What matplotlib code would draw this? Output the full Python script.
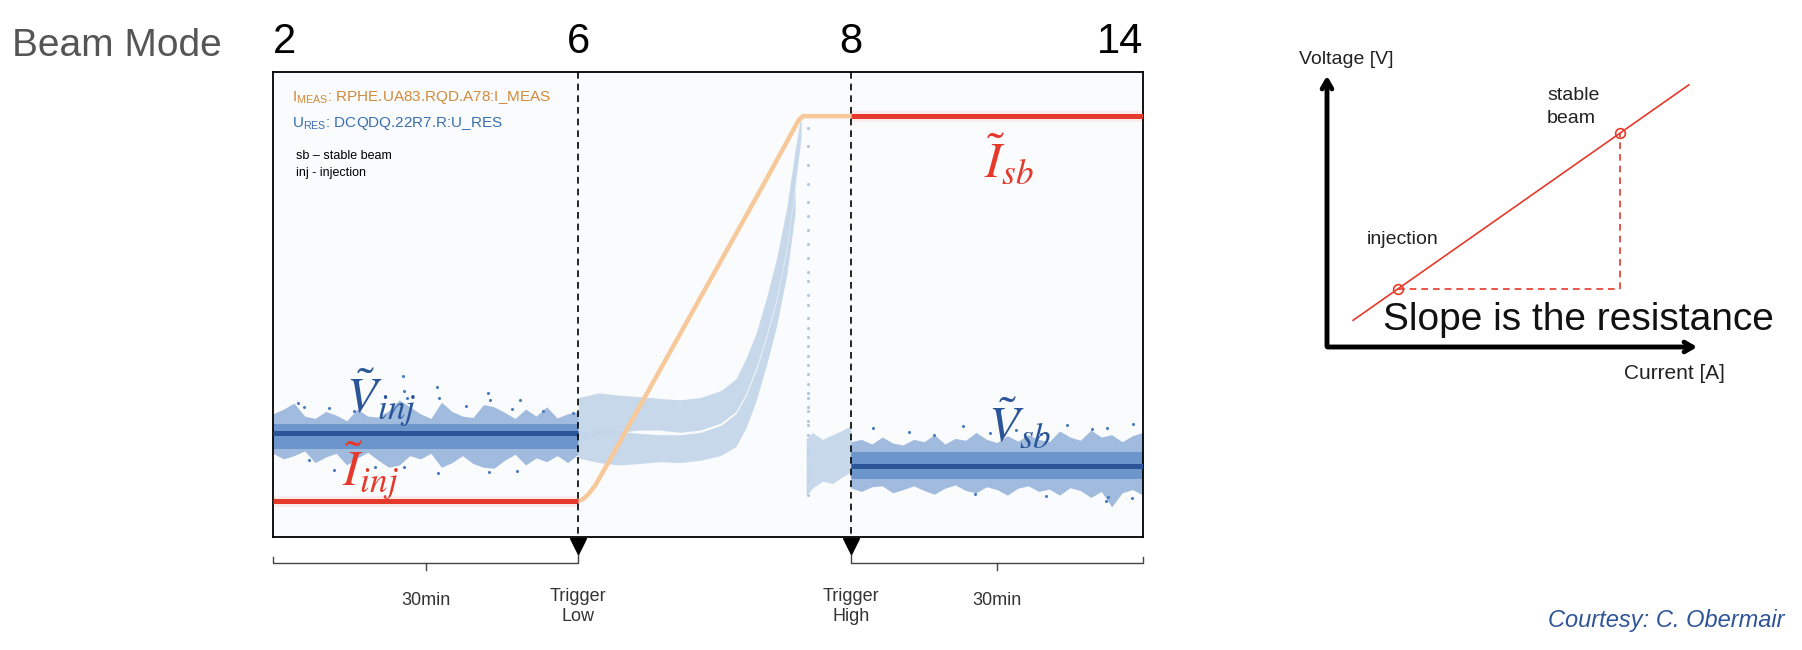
import matplotlib.pyplot as plt
import numpy as np

plt.rcParams['font.family'] = ['Liberation Sans', 'DejaVu Sans']
plt.rcParams['mathtext.fontset'] = 'stix'

W, H = 1802, 650

# ---- time series panel (x in minutes, y normalised to plot height) ----
beam_modes = ['2', '6', '8', '14']
seg_edges = [0.0, 30.0, 56.8, 85.5]
seg_labels = ['30min', '30min']
trigger_labels = ['Trigger\nLow', 'Trigger\nHigh']

i_inj_level = 7.7
i_sb_level = 90.5
ramp_t = [30.0, 30.5, 31.0, 31.7, 33.1, 47.9, 51.7, 52.1, 56.8]
ramp_i = [7.7, 8.2, 9.2, 11.2, 16.6, 74.6, 89.8, 90.5, 90.5]

v_inj_level = 22.4
v_sb_level = 15.3

# voltage scatter envelope, injection window
left_t = np.linspace(0.0, 30.0, 30)
left_hi = [26.5, 27.5, 28.8, 26.0, 25.5, 27.0, 26.2, 25.0, 27.5, 26.0, 25.8, 27.2, 29.5, 28.0, 26.5,
           25.5, 29.0, 27.0, 26.0, 25.7, 28.5, 28.0, 26.8, 25.5, 27.5, 26.0, 28.0, 25.6, 26.5, 27.0]
left_lo = [18.0, 16.8, 17.5, 18.5, 16.0, 17.2, 18.0, 15.5, 17.0, 18.2, 16.5, 15.0, 15.5, 17.5, 16.8,
           18.0, 15.0, 16.0, 17.5, 15.8, 15.0, 14.8, 16.5, 17.8, 15.5, 17.0, 16.2, 17.5, 16.0, 17.8]
left_dots_t = [2.5, 3.0, 5.5, 8.0, 12.8, 12.9, 13.2, 16.1, 16.3, 19.0, 21.1, 21.3, 23.5, 24.3,
               26.5, 29.5, 6.0, 12.9, 16.2, 21.2, 24.0, 10.0, 3.5]
left_dots_v = [28.8, 28.0, 27.8, 27.0, 34.6, 31.5, 29.8, 32.2, 30.0, 28.2, 31.0, 29.5, 27.6, 29.5,
               27.2, 26.7, 14.5, 15.0, 13.8, 14.0, 14.2, 15.0, 16.6]

# voltage scatter envelope, stable beam window
right_t = np.linspace(56.8, 85.5, 29)
right_hi = [20.5, 21.0, 20.0, 21.5, 20.2, 19.8, 21.0, 20.5, 22.0, 20.0, 21.2, 20.8, 22.5, 21.0, 20.3,
            21.8, 20.6, 22.0, 21.0, 20.5, 22.8, 21.5, 20.8, 23.0, 21.5, 22.0, 20.5, 21.8, 22.5]
right_lo = [10.5, 9.8, 10.8, 11.0, 9.5, 10.2, 11.0, 10.0, 9.2, 10.5, 11.2, 10.0, 9.5, 10.8, 10.2,
            9.0, 10.5, 11.0, 9.8, 10.3, 9.0, 10.6, 10.0, 8.5, 9.8, 6.5, 9.5, 10.2, 9.0]
right_dots_t = [59.0, 62.5, 65.0, 67.8, 70.5, 73.0, 75.5, 78.0, 80.5, 82.0, 84.5, 81.9, 82.1, 84.4, 76.0, 69.0]
right_dots_v = [23.4, 22.5, 22.0, 23.8, 22.4, 23.0, 22.2, 24.0, 23.2, 23.5, 24.2, 7.8, 8.6, 8.3, 8.9, 9.2]

# voltage during the ramp (two fuzzy branches)
ramp_up_t = [30.0, 32.0, 34.0, 36.0, 38.0, 40.0, 42.0, 44.0, 45.5, 46.5, 47.5, 48.5, 49.5, 50.5, 51.3, 51.9]
ramp_up_hi = [30.0, 31.0, 30.5, 30.2, 29.8, 29.5, 30.0, 31.5, 34.0, 38.5, 44.0, 51.5, 60.0, 71.0, 83.0, 91.0]
ramp_up_lo = [20.5, 22.0, 22.5, 23.0, 23.0, 22.5, 23.0, 24.5, 27.0, 31.0, 36.5, 43.5, 51.5, 62.5, 75.5, 86.0]
ramp_dn_t = [30.0, 32.0, 34.0, 36.0, 38.0, 40.0, 42.0, 44.0, 45.5, 46.5, 47.5, 48.5, 49.5, 50.5, 51.3]
ramp_dn_hi = [22.5, 23.0, 22.8, 22.3, 22.0, 22.0, 22.5, 24.0, 26.5, 30.5, 36.0, 43.0, 51.0, 62.0, 75.0]
ramp_dn_lo = [17.0, 16.0, 15.5, 15.8, 16.2, 16.0, 16.5, 17.5, 19.5, 23.5, 29.5, 37.0, 45.5, 56.5, 69.5]
drop_t = 52.6
drop_v = [88, 84, 80, 76, 72, 69, 66, 63, 60, 57, 55, 52, 50, 47, 45, 43, 41, 39, 37, 35, 33, 31,
          30, 28, 27, 25, 24, 22, 21, 19, 18, 16, 15, 13, 12, 10, 9]
settle_t = [52.4, 53.0, 54.0, 55.0, 56.0, 56.8]
settle_hi = [21.0, 22.5, 21.0, 22.0, 23.0, 24.0]
settle_lo = [9.0, 10.5, 12.0, 11.5, 13.0, 14.0]

# ---- V-I sketch ----
vi_current = [0.19, 0.786]   # injection, stable beam
vi_voltage = [0.212, 0.781]
vi_line_current = [0.07, 0.97]

RED = '#E5392B'
DKBLUE = '#2A5699'
MIDBLUE = '#4A7CC0'
LIGHT = '#C2D5E9'
ORANGE = '#F7C99A'


def fx(px):
    return px / W


def fy(py):
    return 1 - py / H


fig = plt.figure(figsize=(W / 100, H / 100), dpi=100)
ax = fig.add_axes([fx(273), fy(537), (1143 - 273) / W, (537 - 72) / H])
ax.set_facecolor('#FAFBFD')
ax.set_xlim(seg_edges[0], seg_edges[-1])
ax.set_ylim(0, 100)
ax.set_xticks([])
ax.set_yticks([])
for s in ax.spines.values():
    s.set_linewidth(1.3)

# ramp voltage cloud
ax.fill_between(ramp_up_t, ramp_up_lo, ramp_up_hi, color=LIGHT, lw=0, alpha=0.9, zorder=1)
ax.fill_between(ramp_dn_t, ramp_dn_lo, ramp_dn_hi, color=LIGHT, lw=0, alpha=0.9, zorder=1)
ax.scatter([drop_t] * len(drop_v), drop_v, s=5, color='#AFC6E0', lw=0, zorder=1)
ax.fill_between(settle_t, settle_lo, settle_hi, color=LIGHT, lw=0, alpha=0.9, zorder=1)

# injection / stable beam voltage scatter
ax.fill_between(left_t, left_lo, left_hi, color=MIDBLUE, lw=0, alpha=0.5, zorder=2)
ax.fill_between(left_t, 19.0, 24.3, color=MIDBLUE, lw=0, alpha=0.6, zorder=2)
ax.scatter(left_dots_t, left_dots_v, s=5, color=MIDBLUE, lw=0, zorder=2)
ax.fill_between(right_t, right_lo, right_hi, color=MIDBLUE, lw=0, alpha=0.5, zorder=2)
ax.fill_between(right_t, 12.5, 18.2, color=MIDBLUE, lw=0, alpha=0.6, zorder=2)
ax.scatter(right_dots_t, right_dots_v, s=5, color=MIDBLUE, lw=0, zorder=2)

# current
ax.plot(ramp_t, ramp_i, color=ORANGE, lw=3.2, solid_capstyle='butt', zorder=3)
for x0, x1, lev in [(seg_edges[0], seg_edges[1], i_inj_level), (seg_edges[2], seg_edges[3], i_sb_level)]:
    ax.plot([x0, x1], [lev, lev], color=RED, lw=8, alpha=0.08, solid_capstyle='butt', zorder=4)
    ax.plot([x0, x1], [lev, lev], color=RED, lw=3.6, solid_capstyle='butt', zorder=4)

# voltage medians
ax.plot(seg_edges[:2], [v_inj_level] * 2, color=DKBLUE, lw=3.6, solid_capstyle='butt', zorder=4)
ax.plot(seg_edges[2:], [v_sb_level] * 2, color=DKBLUE, lw=3.6, solid_capstyle='butt', zorder=4)

# triggers
for xt in seg_edges[1:3]:
    ax.plot([xt, xt], [100, -2.0], color='black', lw=1.2, ls=(0, (4, 3)), clip_on=False, zorder=5)
    ax.plot([xt], [-2.0], marker='v', color='black', ms=11, clip_on=False, zorder=5)

# brackets below the time axis
for k in range(2):
    a, b = (seg_edges[0], seg_edges[1]) if k == 0 else (seg_edges[2], seg_edges[3])
    ya = -4.3 if k == 0 else -3.4
    yb = -3.4 if k == 0 else -4.3
    ax.plot([a, a, b, b], [ya, -5.6, -5.6, yb], color='#444444', lw=1.0, clip_on=False)
    mid = (a + b) / 2
    ax.plot([mid, mid], [-5.6, -7.1], color='#444444', lw=1.0, clip_on=False)
    ax.text(mid, -13.7, seg_labels[k], ha='center', va='center', fontsize=13, color='#333333')
    ax.text(seg_edges[k + 1], -10.9, trigger_labels[k], ha='center', va='top', fontsize=13,
            color='#333333', linespacing=1.25)

# beam mode numbers
for lab, xe, ha in zip(beam_modes, seg_edges, ['left', 'center', 'center', 'right']):
    ax.text(xe, 1.0 + 30 / 465, lab, transform=ax.get_xaxis_transform(), ha=ha, va='center',
            fontsize=30, color='black')
fig.text(fx(12), fy(46), 'Beam Mode', ha='left', va='center', fontsize=28, color='#555555')

# legend text
fig.text(fx(292), fy(97), r'$\mathregular{I_{MEAS}}$: RPHE.UA83.RQD.A78:I_MEAS', fontsize=11,
         color='#D08A3C', va='center')
fig.text(fx(292), fy(123), r'$\mathregular{U_{RES}}$: DCQDQ.22R7.R:U_RES', fontsize=11,
         color='#3A6EB0', va='center')
fig.text(fx(296), fy(156), 'sb \u2013 stable beam', fontsize=9, color='black', va='center')
fig.text(fx(296), fy(173), 'inj - injection', fontsize=9, color='black', va='center')

# math labels
fig.text(fx(346), fy(413), r'$\tilde{V}_{inj}$', fontsize=36, color=DKBLUE, va='baseline')
fig.text(fx(342), fy(486), r'$\tilde{I}_{inj}$', fontsize=36, color=RED, va='baseline')
fig.text(fx(984), fy(177), r'$\tilde{I}_{sb}$', fontsize=36, color=RED, va='baseline')
fig.text(fx(988), fy(441), r'$\tilde{V}_{sb}$', fontsize=36, color=DKBLUE, va='baseline')

# ---- V-I sketch ----
ax2 = fig.add_axes([fx(1327), fy(347), (1700 - 1327) / W, (347 - 73) / H])
ax2.set_xlim(0, 1)
ax2.set_ylim(0, 1)
ax2.axis('off')
ax2.annotate('', xy=(0, 1.0), xytext=(0, -0.008),
             arrowprops=dict(arrowstyle='->,head_length=0.6,head_width=0.35', lw=3.5, color='black'),
             annotation_clip=False)
ax2.annotate('', xy=(1.0, 0), xytext=(-0.006, 0),
             arrowprops=dict(arrowstyle='->,head_length=0.6,head_width=0.35', lw=3.5, color='black'),
             annotation_clip=False)
slope = (vi_voltage[1] - vi_voltage[0]) / (vi_current[1] - vi_current[0])
line_v = [vi_voltage[0] + slope * (c - vi_current[0]) for c in vi_line_current]
ax2.plot(vi_line_current, line_v, color=RED, lw=1.2)
ax2.plot([vi_current[0], vi_current[1]], [vi_voltage[0], vi_voltage[0]], color=RED, lw=1.2, ls=(0, (4, 3)))
ax2.plot([vi_current[1], vi_current[1]], [vi_voltage[0], vi_voltage[1]], color=RED, lw=1.2, ls=(0, (4, 3)))
ax2.plot(vi_current, vi_voltage, 'o', mfc='none', mec=RED, ms=7, mew=1.2)

fig.text(fx(1346), fy(60), 'Voltage [V]', ha='center', va='center', fontsize=14, color='#222222')
fig.text(fx(1674), fy(373), 'Current [A]', ha='center', va='center', fontsize=15, color='#222222')
fig.text(fx(1367), fy(240), 'injection', ha='left', va='center', fontsize=14, color='#222222')
fig.text(fx(1547), fy(107), 'stable\nbeam', ha='left', va='center', fontsize=14, color='#222222',
         linespacing=1.5)
fig.text(fx(1383), fy(320), 'Slope is the resistance', ha='left', va='center', fontsize=28,
         color='#111111')
fig.text(fx(1784), fy(620), 'Courtesy: C. Obermair', ha='right', va='center', fontsize=17,
         color='#2F5597', style='italic')

fig.savefig('out.png', dpi=100)
